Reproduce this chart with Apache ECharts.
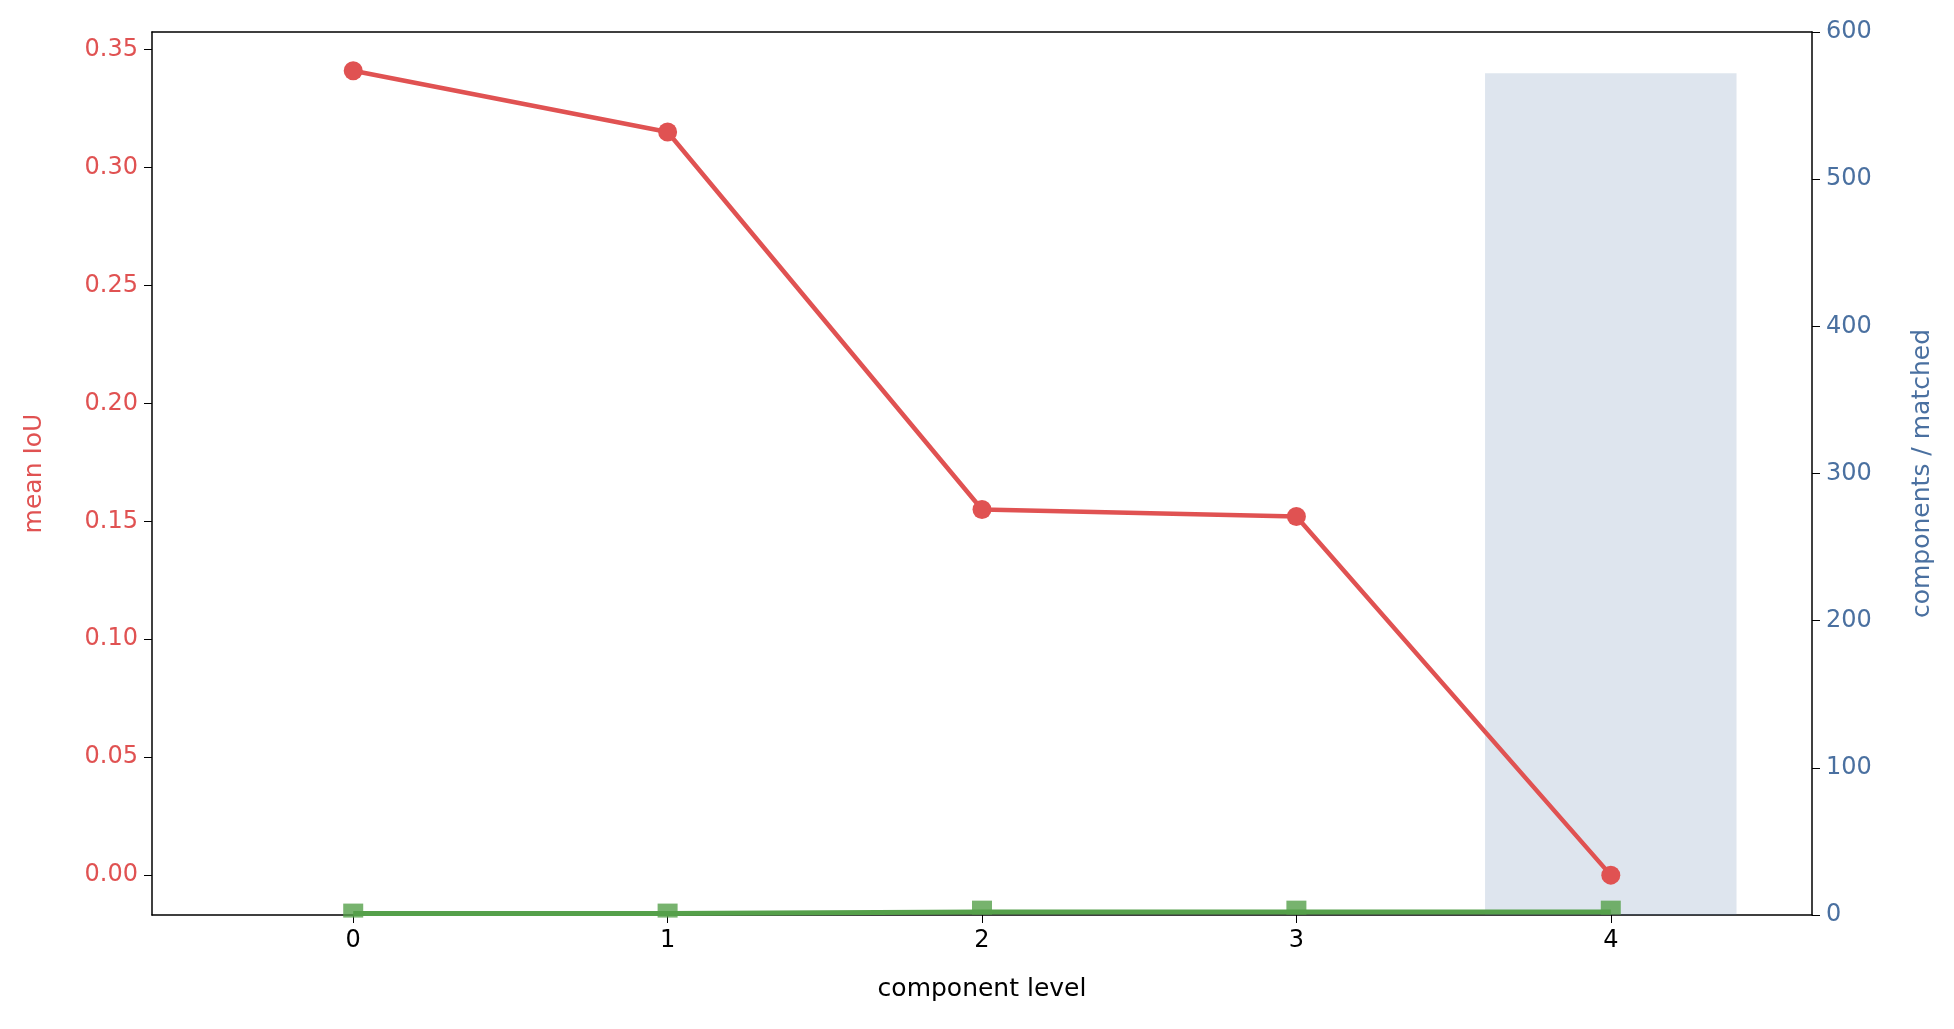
<!DOCTYPE html>
<html><head><meta charset="utf-8">
<script src="https://cdn.jsdelivr.net/npm/echarts@6/dist/echarts.min.js"></script>
<style>html,body{margin:0;background:#fff}#chart{width:1954px;height:1029px}</style>
</head><body><div id="chart"></div>
<script>
var levels = [0, 1, 2, 3, 4]
var meanIoU = [0.341, 0.315, 0.155, 0.152, 0.0]
var components = [3, 3, 5, 5, 5]
var matched = [1, 1, 2, 2, 2]
var highlightLevel = 4
var highlightHeight = 572
var leftTicks = [0, 0.05, 0.1, 0.15, 0.2, 0.25, 0.3, 0.35]

var red = '#e05252', blue = '#4a70a0', green = '#55a04a'
function pairs(v){ return levels.map(function(x,i){ return [x, v[i]] }) }

var myChart = echarts.init(document.getElementById('chart'))
myChart.setOption({
  animation: false,
  grid: {left: 152, right: 142, top: 32, bottom: 114},
  xAxis: [{
    type: 'value', min: -0.64, max: 4.64,
    splitLine: {show: false},
    axisLine: {onZero: false, lineStyle: {color: '#000', width: 1.5}},
    axisTick: {customValues: levels, length: 8, lineStyle: {color: '#000'}},
    axisLabel: {customValues: levels, color: '#000', fontSize: 24, margin: 14, fontFamily: 'DejaVu Sans'},
    name: 'component level', nameLocation: 'middle', nameGap: 62,
    nameTextStyle: {color: '#000', fontSize: 25, fontFamily: 'DejaVu Sans'}
  }, {
    type: 'value', min: -0.64, max: 4.64, position: 'top',
    splitLine: {show: false},
    axisLine: {onZero: false, lineStyle: {color: '#000', width: 1.5}},
    axisTick: {show: false}, axisLabel: {show: false}
  }],
  yAxis: [{
    type: 'value', min: -0.0169, max: 0.3574,
    splitLine: {show: false},
    axisLine: {show: true, onZero: false, lineStyle: {color: '#000', width: 1.5}},
    axisTick: {show: true, customValues: leftTicks, length: 8, lineStyle: {color: '#000'}},
    axisLabel: {customValues: leftTicks, color: red, fontSize: 24, margin: 14, fontFamily: 'DejaVu Sans',
      formatter: function(v){ return v.toFixed(2) }},
    name: 'mean IoU', nameLocation: 'middle', nameGap: 105, nameRotate: 90,
    nameTextStyle: {color: red, fontSize: 25, fontFamily: 'DejaVu Sans'}
  }, {
    type: 'value', min: 0, max: 600, interval: 100, position: 'right',
    splitLine: {show: false},
    axisLine: {show: true, onZero: false, lineStyle: {color: '#000', width: 1.5}},
    axisTick: {show: true, length: 8, lineStyle: {color: '#000'}},
    axisLabel: {color: blue, fontSize: 24, margin: 14, fontFamily: 'DejaVu Sans'},
    name: 'components / matched', nameLocation: 'middle', nameGap: 98, nameRotate: 90,
    nameTextStyle: {color: blue, fontSize: 25, fontFamily: 'DejaVu Sans'}
  }],
  series: [{
    type: 'line', yAxisIndex: 1, data: pairs(matched),
    symbol: 'none', lineStyle: {color: green, width: 5}, z: 2
  }, {
    type: 'scatter', yAxisIndex: 1, data: pairs(components),
    symbol: 'rect', symbolSize: [20, 14], itemStyle: {color: green}, z: 3
  }, {
    type: 'line', yAxisIndex: 0, data: pairs(meanIoU),
    symbol: 'circle', symbolSize: 19, lineStyle: {color: red, width: 4.5},
    itemStyle: {color: red}, z: 4
  }, {
    type: 'line', yAxisIndex: 1, data: [], z: 10,
    markArea: {
      silent: true,
      itemStyle: {color: 'rgba(74,112,160,0.18)'},
      data: [[{coord: [highlightLevel - 0.4, 0]}, {coord: [highlightLevel + 0.4, highlightHeight]}]]
    }
  }]
})
</script></body></html>
